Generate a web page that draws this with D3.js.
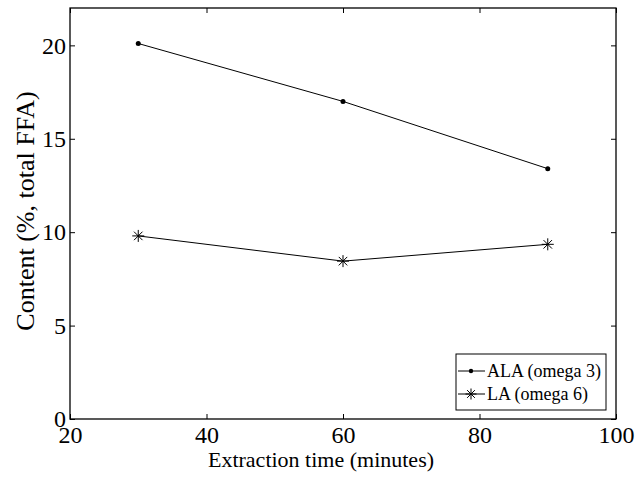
<!DOCTYPE html>
<html>
<head>
<meta charset="utf-8">
<script src="https://cdn.jsdelivr.net/npm/d3@7"></script>
<style>
  body { margin: 0; background: #fff; }
  svg text { font-family: "Liberation Serif", "Times New Roman", serif; fill: #000; }
</style>
</head>
<body>
<script>
const times = [30, 60, 90];
const alaValues = [20.1, 17.0, 13.4];
const laValues = [9.8, 8.45, 9.35];
const xTicks = [20, 40, 60, 80, 100];
const yTicks = [0, 5, 10, 15, 20];
const seriesNames = ["ALA (omega 3)", "LA (omega 6)"];

const box = { left: 70, top: 8, right: 616, bottom: 419 };

const svg = d3.select("body").append("svg")
  .attr("width", 638)
  .attr("height", 479);

const x = d3.scaleLinear().domain([20, 100]).range([box.left, box.right]);
const y = d3.scaleLinear().domain([0, 22]).range([box.bottom, box.top]);

// frame
svg.append("rect")
  .attr("x", box.left).attr("y", box.top)
  .attr("width", box.right - box.left).attr("height", box.bottom - box.top)
  .attr("fill", "none").attr("stroke", "#000").attr("stroke-width", 1.3);

// inward ticks, all four sides
const tickLen = 5;
svg.append("g").attr("transform", `translate(0,${box.bottom})`)
  .call(d3.axisBottom(x).tickValues(xTicks).tickSize(-tickLen).tickPadding(7))
  .call(g => g.select(".domain").remove())
  .call(g => g.selectAll("text").style("font-size", "24px"));
svg.append("g").attr("transform", `translate(0,${box.top})`)
  .call(d3.axisTop(x).tickValues(xTicks).tickSize(-tickLen).tickFormat(""))
  .call(g => g.select(".domain").remove());
svg.append("g").attr("transform", `translate(${box.left},0)`)
  .call(d3.axisLeft(y).tickValues(yTicks).tickSize(-tickLen).tickPadding(4))
  .call(g => g.select(".domain").remove())
  .call(g => g.selectAll("text").style("font-size", "24px"));
svg.append("g").attr("transform", `translate(${box.right},0)`)
  .call(d3.axisRight(y).tickValues(yTicks).tickSize(-tickLen).tickFormat(""))
  .call(g => g.select(".domain").remove());

// axis titles
svg.append("text")
  .attr("x", (box.left + box.right) / 2 - 22)
  .attr("y", 467)
  .attr("text-anchor", "middle")
  .style("font-size", "22px")
  .text("Extraction time (minutes)");

svg.append("text")
  .attr("transform", "translate(34,211) rotate(-90)")
  .attr("text-anchor", "middle")
  .style("font-size", "26px")
  .text("Content (%, total FFA)");

const line = d3.line().x(d => x(d[0])).y(d => y(d[1]));
const alaPts = times.map((t, i) => [t, alaValues[i]]);
const laPts = times.map((t, i) => [t, laValues[i]]);

svg.append("path").attr("d", line(alaPts))
  .attr("fill", "none").attr("stroke", "#000").attr("stroke-width", 1);
svg.append("path").attr("d", line(laPts))
  .attr("fill", "none").attr("stroke", "#000").attr("stroke-width", 1);

function asterisk(g, cx, cy, r) {
  const a = r * Math.SQRT1_2;
  const p = `M${cx - r},${cy}H${cx + r}M${cx},${cy - r}V${cy + r}` +
    `M${cx - a},${cy - a}L${cx + a},${cy + a}M${cx - a},${cy + a}L${cx + a},${cy - a}`;
  g.append("path").attr("d", p).attr("stroke", "#000").attr("stroke-width", 1).attr("fill", "none");
}

svg.selectAll(".ala-dot").data(alaPts).enter().append("circle")
  .attr("class", "ala-dot")
  .attr("cx", d => x(d[0])).attr("cy", d => y(d[1])).attr("r", 2.5)
  .attr("fill", "#000");

const laG = svg.append("g");
laPts.forEach(d => asterisk(laG, x(d[0]), y(d[1]), 6));

// legend
const legend = svg.append("g");
legend.append("rect")
  .attr("x", 456).attr("y", 354).attr("width", 150).attr("height", 56)
  .attr("fill", "#fff").attr("stroke", "#000").attr("stroke-width", 1);
seriesNames.forEach((name, i) => {
  const ly = 371 + i * 23;
  legend.append("line")
    .attr("x1", 458).attr("x2", 485).attr("y1", ly).attr("y2", ly)
    .attr("stroke", "#000").attr("stroke-width", 1);
  if (i === 0) {
    legend.append("circle").attr("cx", 471).attr("cy", ly).attr("r", 2.2).attr("fill", "#000");
  } else {
    asterisk(legend, 471, ly, 5.5);
  }
  legend.append("text")
    .attr("x", 487).attr("y", ly + 6)
    .style("font-size", "18px")
    .text(name);
});
</script>
</body>
</html>
